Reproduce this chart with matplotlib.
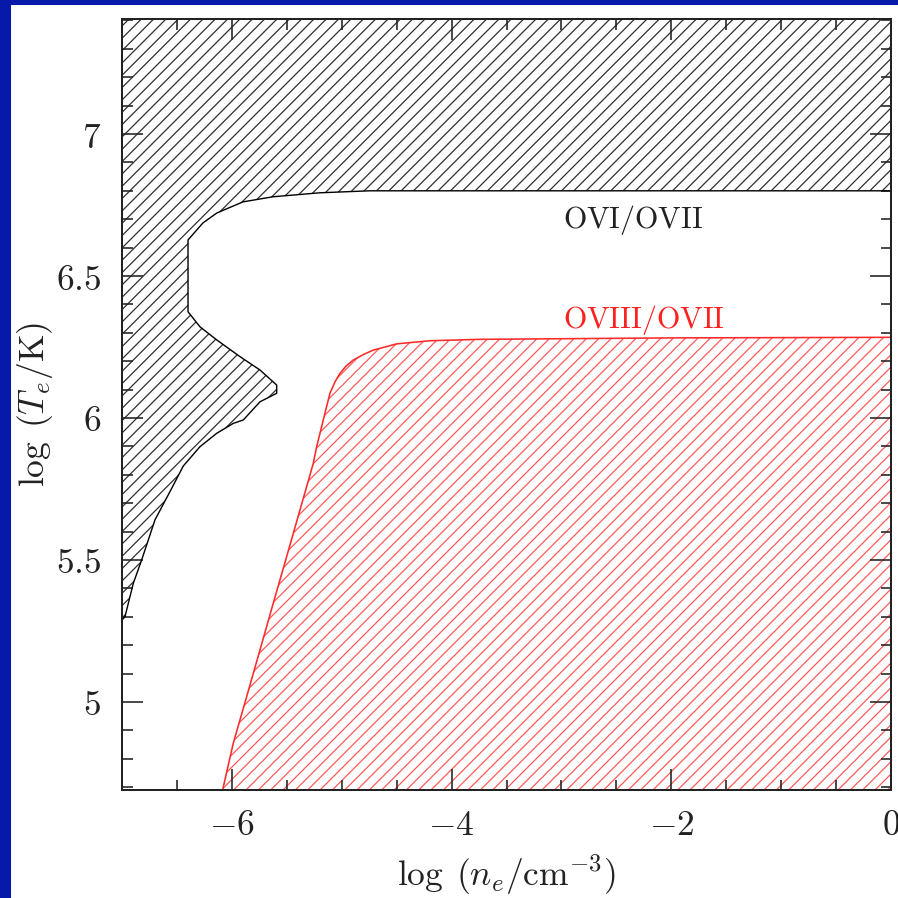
import matplotlib
matplotlib.use("Agg")
import matplotlib.pyplot as plt
from matplotlib.patches import Rectangle
from matplotlib.ticker import MultipleLocator, FuncFormatter

# OVI/OVII constraint: boundary of the excluded (hatched) region, traced from the
# right edge leftwards along the top, down the notch and back to the left axis
ovi_x = [0.0, -4.00, -4.743, -5.198, -5.626, -5.899, -6.136, -6.263, -6.399,
         -6.399, -6.290, -6.138, -5.926, -5.744, -5.592,
         -5.592, -5.744, -5.896, -5.987, -6.138, -6.290, -6.442, -6.548,
         -6.700, -6.821, -6.897, -6.973, -7.0]
ovi_y = [6.800, 6.800, 6.800, 6.793, 6.779, 6.761, 6.722, 6.687, 6.627,
         6.374, 6.321, 6.275, 6.216, 6.169, 6.116,
         6.087, 6.057, 5.993, 5.981, 5.946, 5.899, 5.831, 5.752,
         5.641, 5.500, 5.418, 5.300, 5.289]

# OVIII/OVII constraint: upper edge of the allowed-below region
oviii_x = [-6.084, -5.987, -5.865, -5.744, -5.623, -5.501, -5.380, -5.259,
           -5.228, -5.168, -5.107, -5.060, -5.016, -4.960, -4.895, -4.800,
           -4.713, -4.500, -4.197, -3.742, -2.0, 0.0]
oviii_y = [4.690, 4.855, 5.019, 5.183, 5.348, 5.512, 5.676, 5.840,
           5.899, 5.993, 6.087, 6.128, 6.157, 6.183, 6.204, 6.224,
           6.239, 6.261, 6.272, 6.277, 6.282, 6.284]

XLIM = (-7.0, 0.0)
YLIM = (4.69, 7.405)

label_ovi = r"$\mathrm{OVI/OVII}$"
label_oviii = r"$\mathrm{OVIII/OVII}$"

DPI = 148


def pt(pixels):
    """Convert a size given in output pixels to points."""
    return pixels * 72.0 / DPI


plt.rcParams["mathtext.fontset"] = "cm"
plt.rcParams["font.family"] = "serif"
plt.rcParams["hatch.linewidth"] = pt(1.25)

fig = plt.figure(figsize=(898 / DPI, 898 / DPI), dpi=DPI, facecolor="white")
ax = fig.add_axes([122 / 898, 108 / 898, 769 / 898, 771 / 898])

# blue slide frame
blue = "#0719a8"
fig.add_artist(Rectangle((0, 0), 10 / 898, 1, transform=fig.transFigure,
                         color=blue, zorder=0))
fig.add_artist(Rectangle((0, 1 - 4 / 898), 1, 4 / 898, transform=fig.transFigure,
                         color=blue, zorder=0))

# black hatched region (top-left)
px = [XLIM[1]] + ovi_x + [XLIM[0]]
py = [YLIM[1]] + ovi_y + [YLIM[1]]
ax.fill(px, py, facecolor="none", edgecolor="#303030", linewidth=0,
        hatch="////", zorder=1)
ax.plot(ovi_x, ovi_y, color="black", lw=pt(1.4), zorder=2)

# red hatched region (bottom-right)
ax.fill_between(oviii_x, YLIM[0], oviii_y, facecolor="none",
                edgecolor="#ff5a5a", linewidth=0, hatch="////", zorder=1)
ax.plot(oviii_x, oviii_y, color="#ff2a2a", lw=pt(1.6), zorder=2)

ax.text(-2.99, 6.697, label_ovi, color="#222222", fontsize=pt(30),
        ha="left", va="center")
ax.text(-2.99, 6.345, label_oviii, color="#ff2020", fontsize=pt(30),
        ha="left", va="center")

ax.set_xlim(*XLIM)
ax.set_ylim(*YLIM)

ax.xaxis.set_major_locator(MultipleLocator(2))
ax.xaxis.set_minor_locator(MultipleLocator(0.5))
ax.yaxis.set_major_locator(MultipleLocator(0.5))
ax.yaxis.set_minor_locator(MultipleLocator(0.1))
fmt = FuncFormatter(lambda v, pos: r"$%g$" % (0 if abs(v) < 1e-9 else v))
ax.xaxis.set_major_formatter(fmt)
ax.yaxis.set_major_formatter(fmt)

ax.tick_params(which="both", direction="in", top=True, right=True,
               colors="#222222", labelsize=pt(35.5))
ax.tick_params(which="major", length=pt(21), width=pt(1.6))
ax.tick_params(which="minor", length=pt(10.5), width=pt(1.6))
ax.tick_params(axis="x", which="major", pad=pt(18))
ax.tick_params(axis="y", which="major", pad=pt(21))
for s in ax.spines.values():
    s.set_linewidth(pt(2.0))
    s.set_color("#222222")

ax.set_xlabel(r"$\log\;(n_e/{\rm cm}^{-3})$", fontsize=pt(35.5), color="#222222")
ax.set_ylabel(r"$\log\;(T_e/{\rm K})$", fontsize=pt(35.5), color="#222222")
ax.xaxis.set_label_coords(0.5, -0.082)
ax.yaxis.set_label_coords(-0.087, 0.5)
ax.xaxis.label.set_va("top")

fig.savefig("out.png", dpi=DPI, facecolor="white")
